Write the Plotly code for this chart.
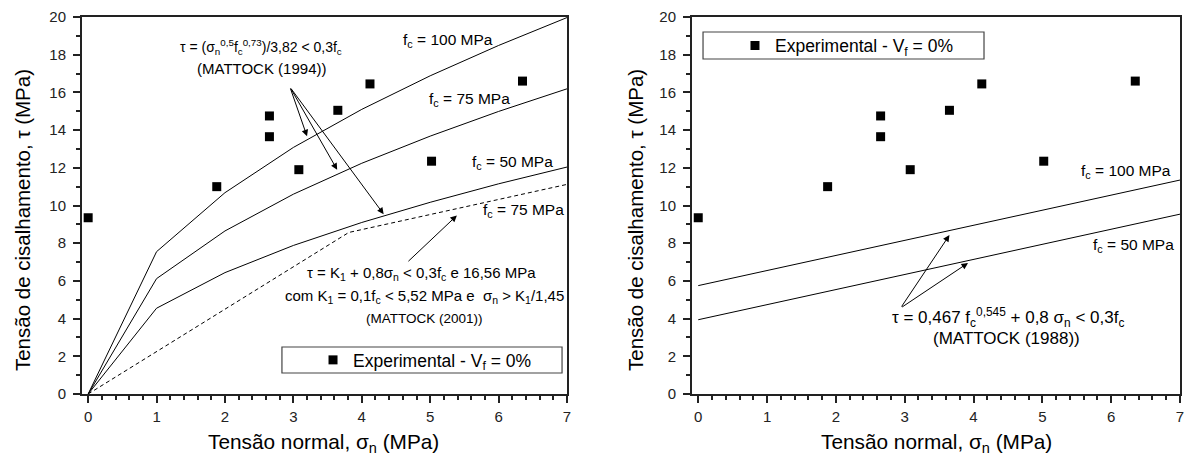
import plotly.graph_objects as go

# ---------------- data ----------------
x_exp = [0, 1.88, 2.65, 2.65, 3.08, 3.65, 4.12, 5.02, 6.35]
y_exp = [9.35, 11.0, 14.75, 13.65, 11.9, 15.05, 16.45, 12.35, 16.6]

sigma_1994 = [0, 1, 2, 3, 4, 5, 6, 7]
tau_1994_fc100 = [0, 7.55, 10.68, 13.08, 15.10, 16.88, 18.49, 19.97]
tau_1994_fc75 = [0, 6.12, 8.65, 10.60, 12.24, 13.68, 14.99, 16.19]
tau_1994_fc50 = [0, 4.55, 6.44, 7.88, 9.10, 10.17, 11.15, 12.04]

sigma_2001 = [0, 3.81, 7]
tau_2001_fc75 = [0, 8.57, 11.12]

sigma_1988 = [0, 7]
tau_1988_fc100 = [5.75, 11.35]
tau_1988_fc50 = [3.94, 9.54]

x_ticks = [0, 1, 2, 3, 4, 5, 6, 7]
y_ticks = [0, 2, 4, 6, 8, 10, 12, 14, 16, 18, 20]

legend_label = "Experimental - V<sub>f</sub> = 0%"
FONT = "Arial, Liberation Sans, sans-serif"

fig = go.Figure()

line_style = dict(color="black", width=1)

# ---- left panel ----
for tau in (tau_1994_fc100, tau_1994_fc75, tau_1994_fc50):
    fig.add_trace(go.Scatter(x=sigma_1994, y=tau, mode="lines", line=line_style,
                             showlegend=False, xaxis="x", yaxis="y", hoverinfo="skip"))
fig.add_trace(go.Scatter(x=sigma_2001, y=tau_2001_fc75, mode="lines",
                         line=dict(color="black", width=1, dash="4px,3px"),
                         showlegend=False, xaxis="x", yaxis="y", hoverinfo="skip"))
fig.add_trace(go.Scatter(x=x_exp, y=y_exp, mode="markers", name=legend_label,
                         marker=dict(symbol="square", size=9, color="black"),
                         xaxis="x", yaxis="y", legend="legend"))

# ---- right panel ----
for tau in (tau_1988_fc100, tau_1988_fc50):
    fig.add_trace(go.Scatter(x=sigma_1988, y=tau, mode="lines", line=line_style,
                             showlegend=False, xaxis="x2", yaxis="y2", hoverinfo="skip"))
fig.add_trace(go.Scatter(x=x_exp, y=y_exp, mode="markers", name=legend_label,
                         marker=dict(symbol="square", size=9, color="black"),
                         xaxis="x2", yaxis="y2", legend="legend2"))

axis_common = dict(
    showgrid=False, zeroline=False, showline=True, linecolor="#222", linewidth=2,
    mirror=True, ticks="outside", ticklen=7, tickwidth=1.5, tickcolor="#222",
    tickfont=dict(family=FONT, size=15, color="#222"), automargin=False,
)
xaxis_common = dict(axis_common, range=[-0.09, 7], tickvals=x_ticks,
                    minor=dict(dtick=0.2, tick0=0, ticks="outside", ticklen=4,
                               tickwidth=1.5, tickcolor="#222"),
                    ticklabelstandoff=1)
yaxis_common = dict(axis_common, range=[0, 20], tickvals=y_ticks,
                    minor=dict(dtick=1, tick0=0, ticks="outside", ticklen=4,
                               tickwidth=1.5, tickcolor="#222"),
                    ticklabelstandoff=4)

fig.update_layout(
    width=1185, height=456,
    margin=dict(l=82, r=5, t=17, b=62),
    paper_bgcolor="white", plot_bgcolor="white",
    font=dict(family=FONT, color="black"),
    xaxis=dict(xaxis_common, domain=[0, 0.4417], anchor="y"),
    yaxis=dict(yaxis_common, domain=[0, 1], anchor="x"),
    xaxis2=dict(xaxis_common, domain=[0.5556, 1.0], anchor="y2"),
    yaxis2=dict(yaxis_common, domain=[0, 1], anchor="x2"),
    legend=dict(x=0.2104, y=0.0902, xanchor="left", yanchor="middle",
                bgcolor="rgba(0,0,0,0)", borderwidth=0,
                font=dict(family=FONT, size=17.5, color="black")),
    legend2=dict(x=0.5947, y=0.9244, xanchor="left", yanchor="middle",
                 bgcolor="rgba(0,0,0,0)", borderwidth=0,
                 font=dict(family=FONT, size=17.5, color="black")),
)

# legend boxes
fig.add_shape(type="rect", xref="paper", yref="paper", x0=0.1821, x1=0.4372,
              y0=0.0557, y1=0.1247, line=dict(color="#444", width=1.2),
              fillcolor="white", layer="below")
fig.add_shape(type="rect", xref="paper", yref="paper", x0=0.5656, x1=0.8215,
              y0=0.8886, y1=0.9602, line=dict(color="#444", width=1.2),
              fillcolor="white", layer="below")

ann = []

def text(x, y, s, size, xref="x", yref="y"):
    ann.append(dict(x=x, y=y, xref=xref, yref=yref, text=s, showarrow=False,
                    xanchor="center", yanchor="middle",
                    font=dict(family=FONT, size=size, color="black")))

def arrow(x0, y0, x1, y1, xref="x", yref="y"):
    ann.append(dict(x=x1, y=y1, ax=x0, ay=y0, xref=xref, yref=yref,
                    axref=xref, ayref=yref, text="", showarrow=True,
                    arrowhead=2, arrowsize=1.3, arrowwidth=1, arrowcolor="black",
                    standoff=0, startstandoff=0))

# left panel texts
text(5.26, 18.78, "f<sub>c</sub> = 100 MPa", 15.5)
text(5.57, 15.6, "f<sub>c</sub> = 75 MPa", 15.5)
text(6.2, 12.3, "f<sub>c</sub> = 50 MPa", 15.5)
text(6.36, 9.73, "f<sub>c</sub> = 75 MPa", 15.5)
text(2.53, 18.4, "τ = (σ<sub>n</sub><sup>0,5</sup>f<sub>c</sub><sup>0,73</sup>)/3,82 &lt; 0,3f<sub>c</sub>", 14)
text(2.53, 17.29, "(MATTOCK (1994))", 15)
text(4.88, 6.38, "τ = K<sub>1</sub> + 0,8σ<sub>n</sub> &lt; 0,3f<sub>c</sub> e 16,56 MPa", 15)
text(4.91, 5.16, "com K<sub>1</sub> = 0,1f<sub>c</sub> &lt; 5,52 MPa e&nbsp; σ<sub>n</sub> &gt; K<sub>1</sub>/1,45", 15)
text(4.92, 3.99, "(MATTOCK (2001))", 13.5)
arrow(2.95, 16.28, 3.2, 13.67)
arrow(2.95, 16.28, 3.64, 11.9)
arrow(2.95, 16.28, 4.32, 9.54)
arrow(4.66, 6.97, 5.39, 9.47)

# right panel texts
text(6.22, 11.78, "f<sub>c</sub> = 100 MPa", 15.5, "x2", "y2")
text(6.32, 7.9, "f<sub>c</sub> = 50 MPa", 15.5, "x2", "y2")
text(4.50, 4.08, "τ = 0,467 f<sub>c</sub><sup>0,545</sup> + 0,8 σ<sub>n</sub> &lt; 0,3f<sub>c</sub>", 17, "x2", "y2")
text(4.48, 2.92, "(MATTOCK (1988))", 17, "x2", "y2")
arrow(2.94, 4.56, 3.65, 8.43, "x2", "y2")
arrow(2.94, 4.56, 3.92, 6.95, "x2", "y2")

# axis titles
ytitle = "Tensão de cisalhamento, τ (MPa)"
xtitle = "Tensão normal, σ<sub>n</sub> (MPa)"
for xp in (-0.0546, 0.5036):
    ann.append(dict(x=xp, y=0.4615, xref="paper", yref="paper", text=ytitle,
                    textangle=-90, showarrow=False, xanchor="center", yanchor="middle",
                    font=dict(family=FONT, size=20.5, color="black")))
for xp in (0.2195, 0.7778):
    ann.append(dict(x=xp, y=-0.13, xref="paper", yref="paper", text=xtitle,
                    showarrow=False, xanchor="center", yanchor="middle",
                    font=dict(family=FONT, size=20.8, color="black")))

fig.update_layout(annotations=ann)
fig.write_html("out.html", config={"displayModeBar": False},
               post_script="document.body.style.margin='0';document.body.style.overflow='hidden';")
